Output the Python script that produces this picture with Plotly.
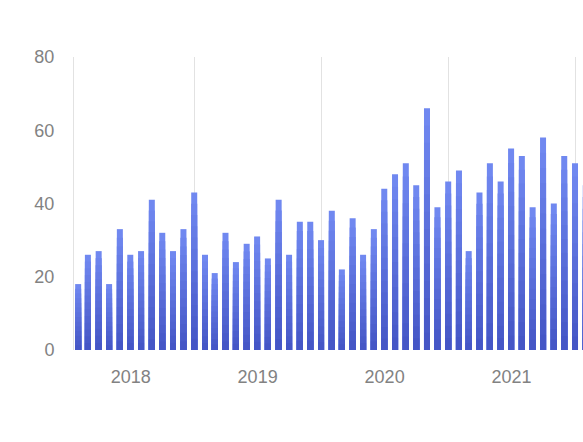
import numpy as np
import pandas as pd
import plotly.graph_objects as go

# Monthly values, Feb 2018 .. Feb 2022
months = pd.date_range("2018-02-01", periods=49, freq="MS")
values = [18, 26, 27, 18, 33, 26, 27, 41, 32, 27, 33,
          43, 26, 21, 32, 24, 29, 31, 25, 41, 26, 35, 35,
          30, 38, 22, 36, 26, 33, 44, 48, 51, 45, 66, 39,
          46, 49, 27, 43, 51, 46, 55, 53, 39, 58, 40, 53,
          51, 45]
y_ticks = [0, 20, 40, 60, 80]

top_rgb = np.array([0x70, 0x88, 0xF0])
bot_rgb = np.array([0x45, 0x56, 0xC6])

fig = go.Figure()
N = 14
vals = np.array(values, dtype=float)
bar_w = 17.3 * 86400000
for i in range(N):
    frac = 1 - i / N
    t = i / (N - 1)
    c = top_rgb * (1 - t) + bot_rgb * t
    color = "rgb(%d,%d,%d)" % tuple(int(round(v)) for v in c)
    fig.add_trace(go.Bar(x=months, y=vals * frac, width=bar_w,
                         marker=dict(color=color, line=dict(width=0)),
                         hoverinfo="skip" if i else None, showlegend=False))

fig.update_layout(
    width=583, height=442,
    margin=dict(l=74, r=0, t=57, b=92, autoexpand=False),
    barmode="overlay",
    plot_bgcolor="white", paper_bgcolor="white",
    font=dict(family="Liberation Sans", size=18, color="#828282"),
    showlegend=False,
)
fig.update_xaxes(
    type="date", automargin=False,
    range=["2018-01-20", "2022-01-24"],
    tick0="2018-01-01", dtick="M12", tickformat="%Y",
    ticklabelmode="period",
    showgrid=True, gridcolor="#e2e2e2", gridwidth=1,
    showline=False, zeroline=False, ticks="",
    ticklabelstandoff=14,
)
fig.update_yaxes(
    range=[0, 80], tickvals=y_ticks, automargin=False,
    showgrid=False, zeroline=False,
    showline=True, linecolor="#e2e2e2", linewidth=1,
    ticks="", ticklabelstandoff=15,
)

fig.write_html("out.html", config={"displayModeBar": False},
               post_script="document.body.style.margin='0';document.body.style.overflow='hidden';")
